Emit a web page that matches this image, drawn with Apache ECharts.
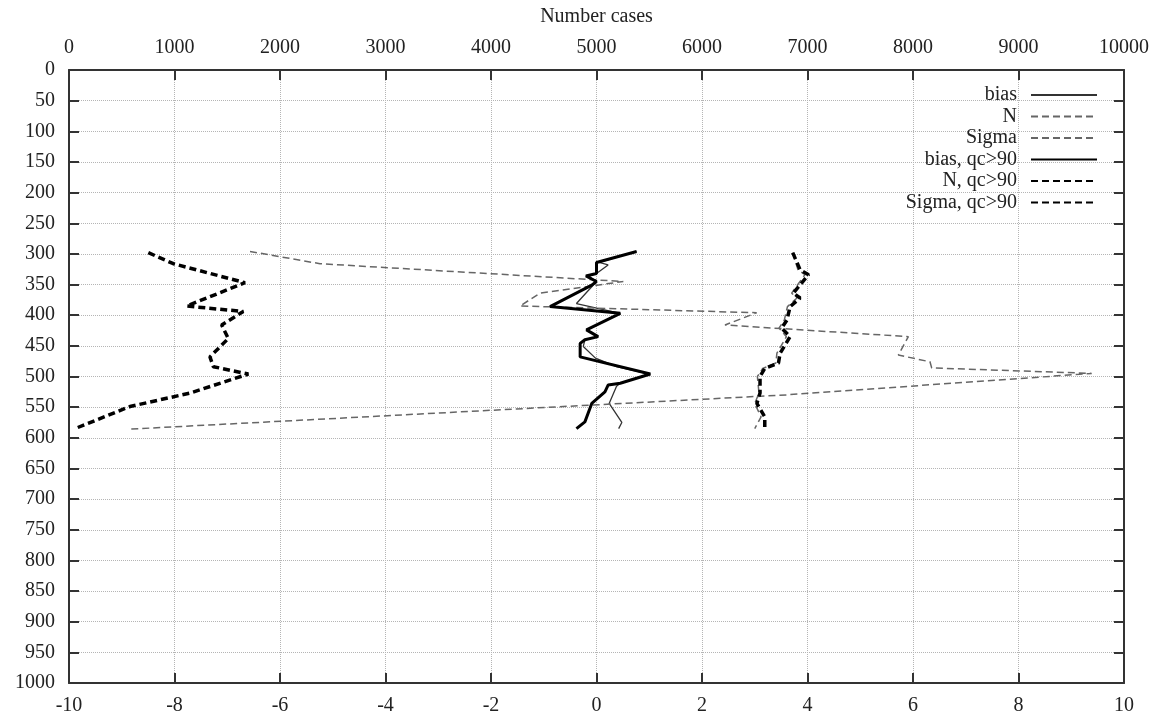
<!DOCTYPE html>
<html>
<head>
<meta charset="utf-8">
<script src="https://cdn.jsdelivr.net/npm/echarts@6/dist/echarts.min.js"></script>
<style>
html, body { margin: 0; padding: 0; background: #fff; }
#res { width: 1159px; height: 721px; }
</style>
</head>
<body>
<div id="res"></div>
<script>
// pressure levels + values
var biasP = [296, 314, 318, 332, 336, 345, 381, 397, 424, 435, 440, 451, 470, 484, 496, 511, 516, 544, 575, 585];
var biasV = [0.76, 0.05, 0.22, 0.0, -0.15, 0.0, -0.38, 0.45, -0.19, 0.03, -0.22, -0.25, -0.02, 0.38, 1.0, 0.45, 0.38, 0.24, 0.48, 0.42];

var nP = [296, 316, 345, 364, 385, 396, 416, 435, 465, 476, 486, 495, 530, 586];
var nV = [1716, 2379, 5254, 4465, 4275, 6518, 6218, 7956, 7861, 8161, 8177, 9694, 6800, 562];

var sigmaP = [298, 326, 334, 364, 372, 386, 408, 421, 435, 462, 478, 487, 500, 527, 544, 566, 585];
var sigmaV = [3.72, 3.82, 3.95, 3.70, 3.80, 3.62, 3.56, 3.46, 3.60, 3.42, 3.40, 3.15, 3.05, 3.08, 3.00, 3.12, 3.0];

var biasQcP = [296, 314, 332, 336, 345, 351, 386, 397, 424, 435, 440, 446, 468, 496, 511, 514, 525, 544, 574, 585];
var biasQcV = [0.76, 0.0, 0.0, -0.2, 0.0, -0.09, -0.88, 0.45, -0.19, 0.03, -0.22, -0.31, -0.31, 1.02, 0.45, 0.22, 0.16, -0.09, -0.22, -0.38];

var nQcP = [298, 316, 347, 385, 394, 416, 438, 468, 484, 496, 527, 549, 585];
var nQcV = [752, 989, 1668, 1115, 1652, 1447, 1510, 1336, 1368, 1700, 1147, 578, 57];

var sigmaQcP = [298, 326, 334, 364, 372, 386, 408, 421, 435, 462, 478, 487, 500, 527, 544, 566, 585];
var sigmaQcV = [3.72, 3.86, 4.02, 3.73, 3.86, 3.67, 3.61, 3.51, 3.67, 3.48, 3.45, 3.19, 3.10, 3.10, 3.04, 3.19, 3.19];

function pairs(v, p) {
    var out = [];
    for (var i = 0; i < p.length; i++) out.push([v[i], p[i]]);
    return out;
}
function plain(v) { return String(v); }

var font = 'Liberation Serif';
var fs = 20;
var txt = '#222';
var axisLine = { onZero: false, lineStyle: { color: '#333', width: 2 } };
var tick = { inside: true, length: 10, lineStyle: { color: '#333', width: 2 } };
var grid_line = { show: true, lineStyle: { type: 'dotted', color: '#b5b5b5', width: 1 } };

var myChart = echarts.init(document.getElementById('res'));
var option = {
    animation: false,
    backgroundColor: '#fff',
    textStyle: { fontFamily: font },
    grid: { left: 69, right: 35, top: 70, bottom: 38, outerBoundsMode: 'none' },
    legend: {
        orient: 'vertical',
        right: 56,
        top: 80,
        align: 'right',
        itemWidth: 66,
        itemHeight: 12,
        itemGap: 1.5,
        itemStyle: { opacity: 0 },
        textStyle: { fontFamily: font, fontSize: fs, color: txt, padding: [0, 9, 0, 0] },
        data: ['bias', 'N', 'Sigma', 'bias, qc>90', 'N, qc>90', 'Sigma, qc>90']
    },
    xAxis: [{
        type: 'value', position: 'bottom', min: -10, max: 10, interval: 2,
        axisLine: axisLine, axisTick: tick, splitLine: grid_line,
        axisLabel: { fontFamily: font, fontSize: fs, color: txt, margin: 13, formatter: plain }
    }, {
        type: 'value', position: 'top', min: 0, max: 10000, interval: 1000,
        name: 'Number cases', nameLocation: 'middle', nameGap: 43,
        nameTextStyle: { fontFamily: font, fontSize: fs, color: txt },
        axisLine: axisLine, axisTick: tick, splitLine: { show: false },
        axisLabel: { fontFamily: font, fontSize: fs, color: txt, margin: 12, formatter: plain }
    }],
    yAxis: [{
        type: 'value', inverse: true, min: 0, max: 1000, interval: 50,
        axisLine: axisLine, axisTick: tick, splitLine: grid_line,
        axisLabel: { fontFamily: font, fontSize: fs, color: txt, margin: 14, formatter: plain }
    }, {
        type: 'value', position: 'right', inverse: true, min: 0, max: 1000, interval: 50,
        axisLine: axisLine, axisTick: tick, splitLine: { show: false },
        axisLabel: { show: false }
    }],
    series: [{
        name: 'bias', type: 'line', symbol: 'none', xAxisIndex: 0,
        lineStyle: { color: '#333', width: 1.3 },
        itemStyle: { color: '#333' },
        data: pairs(biasV, biasP)
    }, {
        name: 'N', type: 'line', symbol: 'none', xAxisIndex: 1,
        lineStyle: { color: '#666', width: 1.5, type: [7, 4] },
        itemStyle: { color: '#666' },
        data: pairs(nV, nP)
    }, {
        name: 'Sigma', type: 'line', symbol: 'none', xAxisIndex: 0,
        lineStyle: { color: '#666', width: 1.5, type: [7, 4] },
        itemStyle: { color: '#666' },
        data: pairs(sigmaV, sigmaP)
    }, {
        name: 'bias, qc>90', type: 'line', symbol: 'none', xAxisIndex: 0,
        lineStyle: { color: '#000', width: 3 },
        itemStyle: { color: '#000' },
        data: pairs(biasQcV, biasQcP)
    }, {
        name: 'N, qc>90', type: 'line', symbol: 'none', xAxisIndex: 1,
        lineStyle: { color: '#000', width: 3.5, type: [7, 4] },
        itemStyle: { color: '#000' },
        data: pairs(nQcV, nQcP)
    }, {
        name: 'Sigma, qc>90', type: 'line', symbol: 'none', xAxisIndex: 0,
        lineStyle: { color: '#000', width: 3.5, type: [7, 4] },
        itemStyle: { color: '#000' },
        data: pairs(sigmaQcV, sigmaQcP)
    }]
};
myChart.setOption(option);
</script>
</body>
</html>
